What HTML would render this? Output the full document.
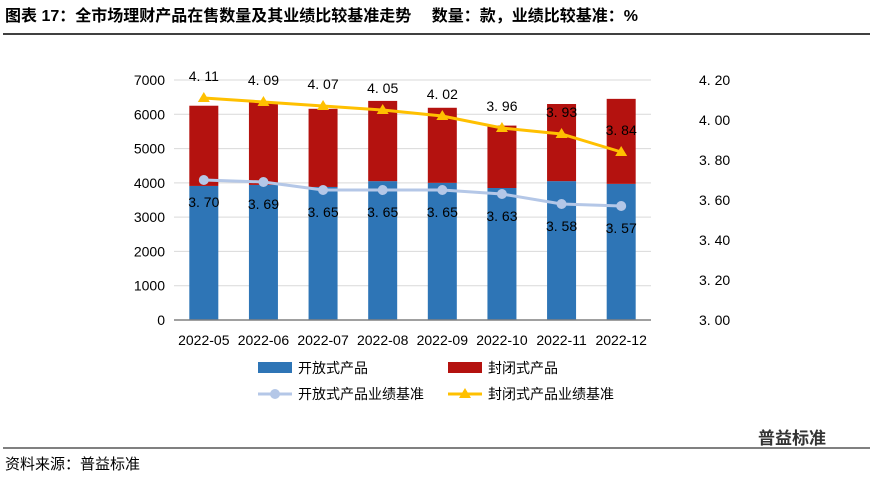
<!DOCTYPE html>
<html><head><meta charset="utf-8"><style>
body{margin:0;background:#fff;width:873px;height:476px;overflow:hidden;font-family:"Liberation Sans","Noto Sans CJK SC",sans-serif}
</style></head><body>
<svg width="873" height="476" xmlns="http://www.w3.org/2000/svg" font-family="Liberation Sans, Noto Sans CJK SC, sans-serif">
<text x="5" y="21" font-size="16" font-weight="bold" fill="#000">图表 17：全市场理财产品在售数量及其业绩比较基准走势　 数量：款，业绩比较基准：%</text>
<line x1="3" y1="34" x2="870" y2="34" stroke="#000" stroke-width="1.5"/>
<g id="grid"></g><g id="bars"></g><g id="lines"></g><g id="axes"></g>
<g font-size="14" fill="#000">
<rect x="258" y="362" width="34" height="11" fill="#2e75b6"/>
<text x="298" y="373">开放式产品</text>
<rect x="448" y="362" width="34" height="11" fill="#b4120f"/>
<text x="488" y="373">封闭式产品</text>
<line x1="258" y1="394" x2="292" y2="394" stroke="#b4c7e7" stroke-width="3"/><circle cx="275" cy="394" r="5" fill="#b4c7e7"/>
<text x="298" y="399">开放式产品业绩基准</text>
<line x1="448" y1="394" x2="482" y2="394" stroke="#ffc000" stroke-width="3"/><polygon points="465,388 471,398 459,398" fill="#ffc000"/>
<text x="488" y="399">封闭式产品业绩基准</text>
</g>
<text x="758" y="444" font-size="17" font-weight="bold" fill="#333">普益标准</text>
<line x1="3" y1="448" x2="870" y2="448" stroke="#000" stroke-width="1"/>
<text x="5" y="469" font-size="15" fill="#000">资料来源：普益标准</text>
</svg>
<script>
const categories=["2022-05","2022-06","2022-07","2022-08","2022-09","2022-10","2022-11","2022-12"];
const openCount=[3910,3940,3880,4050,4000,3850,4050,3970];
const closedCount=[2340,2420,2280,2340,2190,1820,2250,2480];
const openRate=[3.70,3.69,3.65,3.65,3.65,3.63,3.58,3.57];
const closedRate=[4.11,4.09,4.07,4.05,4.02,3.96,3.93,3.84];
const leftTicks=[0,1000,2000,3000,4000,5000,6000,7000];
const rightTicks=["3.00","3.20","3.40","3.60","3.80","4.00","4.20"];
const NS="http://www.w3.org/2000/svg";
const x0=174,x1=651,y0=320,yTop=80,step=(x1-x0)/categories.length;
const yL=v=>y0-(v/7000)*(y0-yTop);
const yR=v=>y0-((v-3)/1.2)*(y0-yTop);
const xc=i=>x0+step*(i+0.5);
function mk(tag,attrs,parent,txt){const e=document.createElementNS(NS,tag);for(const k in attrs)e.setAttribute(k,attrs[k]);if(txt!==undefined)e.textContent=txt;document.getElementById(parent).appendChild(e);return e;}
leftTicks.forEach(t=>{if(t>0){const g=mk('line',{x1:x0,x2:x1,y1:yL(t),y2:yL(t),stroke:'#d9d9d9'},'grid');

}
const l=mk('text',{x:165,y:yL(t)+5,'text-anchor':'end','font-size':14},'axes',t);

});
rightTicks.forEach(t=>{const l=mk('text',{x:699,y:yR(+t)+5,'font-size':14},'axes',t.replace('.','. '));

});
categories.forEach((c,i)=>{const bw=29,bx=xc(i)-bw/2;
const b=mk('rect',{x:bx,y:yL(openCount[i]),width:bw,height:y0-yL(openCount[i]),fill:'#2e75b6'},'bars');


const r=mk('rect',{x:bx,y:yL(openCount[i]+closedCount[i]),width:bw,height:yL(openCount[i])-yL(openCount[i]+closedCount[i]),fill:'#b4120f'},'bars');


const l=mk('text',{x:xc(i),y:y0+25,'text-anchor':'middle','font-size':14},'axes',c);

});
const ax=mk('line',{x1:x0,x2:x1,y1:y0,y2:y0,stroke:'#808080','stroke-width':1.5},'axes');


const pO=mk('polyline',{points:openRate.map((v,i)=>xc(i)+','+yR(v)).join(' '),fill:'none',stroke:'#b4c7e7','stroke-width':3},'lines');


const pC=mk('polyline',{points:closedRate.map((v,i)=>xc(i)+','+yR(v)).join(' '),fill:'none',stroke:'#ffc000','stroke-width':3},'lines');


openRate.forEach((v,i)=>{const c=mk('circle',{cx:xc(i),cy:yR(v),r:5,fill:'#b4c7e7'},'lines');


const t=mk('text',{x:xc(i),y:yR(v)+27,'text-anchor':'middle','font-size':14,fill:'#000'},'lines',v.toFixed(2).replace('.','. '));

});
closedRate.forEach((v,i)=>{const X=xc(i),Y=yR(v);
const p=mk('polygon',{points:`${X},${Y-6} ${X+6},${Y+4} ${X-6},${Y+4}`,fill:'#ffc000'},'lines');


const t=mk('text',{x:X,y:Y-17,'text-anchor':'middle','font-size':14,fill:'#000'},'lines',v.toFixed(2).replace('.','. '));

});
</script>
</body></html>
